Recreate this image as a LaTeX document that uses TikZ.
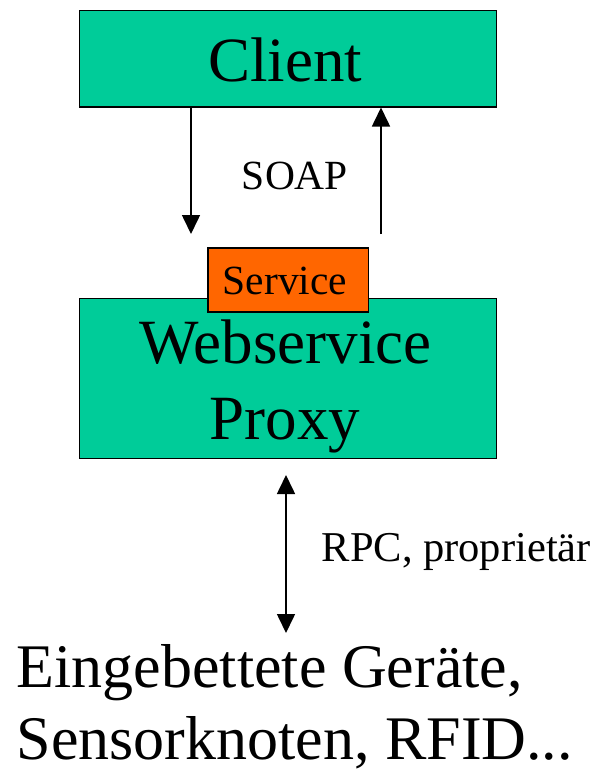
\documentclass[tikz,border=0pt]{standalone}
\usepackage{fontspec}
\setmainfont{Liberation Serif}
\usetikzlibrary{arrows.meta}
\definecolor{boxgreen}{HTML}{00CC99}
\definecolor{svcorange}{HTML}{FF6600}
\tikzset{
  box/.style={draw=black, line width=1.5pt, fill=boxgreen, inner sep=0pt, anchor=north west},
  svcbox/.style={draw=black, line width=1.5pt, fill=svcorange, inner sep=0pt, anchor=north west},
  txt/.style={inner sep=0pt, anchor=base},
  link/.style={line width=1.6pt, -{Triangle[width=18pt,length=19pt]}},
  biglink/.style={line width=1.6pt, {Triangle[width=18pt,length=19pt]}-{Triangle[width=18pt,length=19pt]}}
}
\begin{document}
\begin{tikzpicture}[x=1pt, y=-1pt]
  \useasboundingbox (0,0) rectangle (595,772);

  % boxes
  \node[box, minimum width=417pt, minimum height=96.5pt] (client) at (78.5,9.5) {};
  \node[box, minimum width=417pt, minimum height=160pt] (proxy) at (78.5,297.5) {};
  \node[svcbox, minimum width=160.5pt, minimum height=64pt] (service) at (207,247) {};

  % labels
  \node[txt, font=\fontsize{63}{70}\selectfont] (clienttxt) at (285,81.7) {Client};
  \node[txt, font=\fontsize{41.5}{46}\selectfont] (soap) at (295,189) {SOAP};
  \node[txt, font=\fontsize{41.5}{46}\selectfont] (svctxt) at (285,294) {Service};
  \node[txt, font=\fontsize{63}{70}\selectfont] (ws) at (285.5,363.3) {Webservice};
  \node[txt, font=\fontsize{63}{70}\selectfont] (px) at (285,439.3) {Proxy};
  \node[txt, anchor=base west, font=\fontsize{42.5}{48}\selectfont] (rpc) at (321.5,561.7) {RPC, proprietär};
  \node[txt, anchor=base west, font=\fontsize{62}{70}\selectfont] (dev1) at (16.5,687) {Eingebettete Geräte,};
  \node[txt, anchor=base west, font=\fontsize{62}{70}\selectfont] (dev2) at (16.5,759) {Sensorknoten, RFID...};

  % arrow end points
  \coordinate (downend) at (191,234);
  \coordinate (upstart) at (381,234);
  \coordinate (rpctop) at (286,475);
  \coordinate (rpcbot) at (286,633);

  % connectors
  \draw[link] (client.south -| downend) -- (downend);
  \draw[link] (upstart) -- (client.south -| upstart);
  \draw[biglink] (rpctop) -- (rpcbot);
\end{tikzpicture}
\end{document}
